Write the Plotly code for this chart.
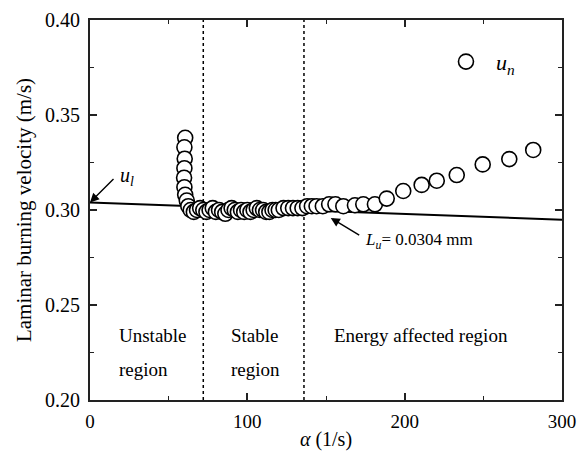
import plotly.graph_objects as go

# ---- data ----
alpha = [60.5, 60.0, 60.2, 60.0, 59.8, 60.0, 60.5, 61.5, 62.5, 64.0, 66.0,
         68, 70, 72, 74, 76, 78, 80, 82, 84, 86, 88, 90, 92, 94, 96, 98,
         100, 102, 104, 106, 108, 110, 112, 114, 116, 118, 120, 123, 126,
         129, 132, 135, 138, 141, 144, 148, 152, 156,
         161, 168.4, 173.7, 181.1, 188.6, 199.1, 210.8, 220.4, 233.1, 249.6, 266.5, 281.7]
u_n = [0.338, 0.333, 0.327, 0.322, 0.317, 0.312, 0.308, 0.305, 0.302, 0.300, 0.299,
       0.300, 0.301, 0.300, 0.299, 0.300, 0.301, 0.299, 0.300, 0.299, 0.298, 0.300, 0.301,
       0.300, 0.299, 0.300, 0.299, 0.300, 0.299, 0.300, 0.301, 0.300, 0.300, 0.299, 0.299,
       0.300, 0.300, 0.300, 0.301, 0.301, 0.301, 0.301, 0.301, 0.302, 0.302, 0.302, 0.302,
       0.303, 0.303,
       0.302, 0.3025, 0.303, 0.303, 0.306, 0.310, 0.3132, 0.3154, 0.3184, 0.324, 0.3268, 0.3316]

u_l = 0.304            # m/s, intercept
L_u_mm = 0.0304        # Markstein length, mm
fit_alpha = [0, 300]
fit_u = [u_l - L_u_mm * 1e-3 * a for a in fit_alpha]

region_bounds = [72, 136]
region_labels = ["Unstable", "region", "Stable", "region", "Energy affected region"]
region_label_x = [17.2, 17.2, 88.3, 88.3, 153.8]
region_label_y = [0.2337, 0.2158, 0.2337, 0.2158, 0.2337]

x_tickvals = [0, 100, 200, 300]
y_tickvals = [0.20, 0.25, 0.30, 0.35, 0.40]
y_ticktext = ["0.20", "0.25", "0.30", "0.35", "0.40"]

FONT = "Liberation Serif"

fig = go.Figure()

fig.add_trace(go.Scatter(
    x=fit_alpha, y=fit_u, mode="lines",
    line=dict(color="black", width=2), showlegend=False, hoverinfo="skip"))

fig.add_trace(go.Scatter(
    x=alpha, y=u_n, mode="markers", name="<i>u</i><sub><i>n</i></sub>",
    marker=dict(symbol="circle", size=15, color="white",
                line=dict(color="black", width=1.6)),
    showlegend=True))

for b in region_bounds:
    fig.add_shape(type="line", xref="x", yref="paper", x0=b, x1=b, y0=0, y1=1,
                  line=dict(color="black", width=1.5, dash="dot"), layer="below")

for t, xx, yy in zip(region_labels, region_label_x, region_label_y):
    fig.add_annotation(x=xx, y=yy, text=t, showarrow=False, xanchor="left",
                       yanchor="middle", font=dict(family=FONT, size=19, color="black"))

# u_l arrow and label
fig.add_annotation(x=0, y=u_l, ax=25, ay=-25, text="", showarrow=True,
                   arrowhead=2, arrowsize=1.3, arrowwidth=1.4, arrowcolor="black")
fig.add_annotation(x=23.6, y=0.3174, text="<i>u<sub>l</sub></i>", showarrow=False,
                   font=dict(family=FONT, size=20, color="black"))

# L_u arrow and label
fig.add_annotation(x=153, y=0.2958, ax=30, ay=18, text="", showarrow=True,
                   arrowhead=2, arrowsize=1.3, arrowwidth=1.4, arrowcolor="black")
fig.add_annotation(x=173.5, y=0.2837, text="<i>L<sub>u</sub></i>= 0.0304 mm",
                   showarrow=False, xanchor="left",
                   font=dict(family=FONT, size=17, color="black"))

axis_common = dict(showline=True, linewidth=2, linecolor="#222", mirror="ticks",
                   ticks="inside", ticklen=7, tickwidth=1.6, tickcolor="#222",
                   showgrid=False, zeroline=False, automargin=False)

fig.update_xaxes(range=[0, 300], tickvals=x_tickvals, ticklabelstandoff=3,
                 tickfont=dict(family=FONT, size=19, color="black"),
                 minor=dict(dtick=50, ticks="inside", ticklen=4, tickcolor="#222", tickwidth=1.4),
                 title=dict(text="<i>α</i> (1/s)", font=dict(family=FONT, size=20, color="black"),
                            standoff=4),
                 **axis_common)
fig.update_yaxes(range=[0.20, 0.40], tickvals=y_tickvals, ticktext=y_ticktext,
                 ticklabelstandoff=4, tickfont=dict(family=FONT, size=20, color="black"),
                 minor=dict(dtick=0.025, ticks="inside", ticklen=4, tickcolor="#222", tickwidth=1.4),
                 title=dict(text="Laminar burning velocity (m/s)",
                            font=dict(family=FONT, size=21, color="black"), standoff=8),
                 **axis_common)

fig.update_layout(
    width=579, height=451,
    margin=dict(l=90, r=17, t=20, b=51),
    plot_bgcolor="white", paper_bgcolor="white",
    font=dict(family=FONT, color="black"),
    legend=dict(x=0.733, y=0.89, xanchor="left", yanchor="middle",
                bgcolor="rgba(0,0,0,0)", font=dict(family=FONT, size=22, color="black"),
                itemsizing="trace", itemwidth=50),
)

fig.write_html("out.html", config={"displayModeBar": False},
               post_script="document.body.style.margin='0';document.body.style.overflow='hidden';")
